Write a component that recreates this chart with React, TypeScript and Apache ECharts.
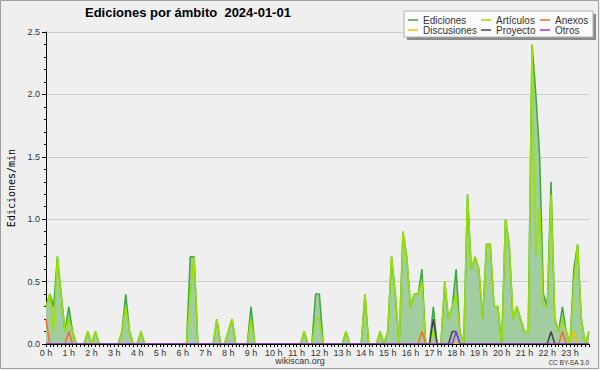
import React, { useEffect, useRef } from "react";
import * as echarts from "echarts";

const TITLE = "Ediciones por ámbito  2024-01-01";
const Y_NAME = "Ediciones/min";
const HOUR_LABELS = [
  "0 h", "1 h", "2 h", "3 h", "4 h", "5 h", "6 h", "7 h", "8 h", "9 h", "10 h", "11 h",
  "12 h", "13 h", "14 h", "15 h", "16 h", "17 h", "18 h", "19 h", "20 h", "21 h", "22 h", "23 h",
];
const SLOTS_PER_HOUR = 6;
// 10-minute slots of the day (0:00 ... 23:50)
const SLOTS: string[] = [];
for (let h = 0; h < 24; h++) for (let m = 0; m < SLOTS_PER_HOUR; m++) SLOTS.push(h + ":" + m + "0");

const SERIES_NAMES = ["Ediciones", "Artículos", "Anexos", "Discusiones", "Proyecto", "Otros"];

const EDICIONES = [
  0.3, 0.4, 0.3, 0.7, 0.4, 0.1, 0.3, 0.1, 0, 0,
  0, 0.1, 0, 0.1, 0, 0, 0, 0, 0, 0,
  0.1, 0.4, 0.1, 0, 0, 0.1, 0, 0, 0, 0,
  0, 0, 0, 0, 0, 0, 0, 0, 0.7, 0.7,
  0, 0, 0, 0, 0, 0.2, 0, 0, 0.1, 0.2,
  0, 0, 0, 0, 0.3, 0, 0, 0, 0, 0,
  0, 0, 0, 0, 0, 0, 0, 0, 0.1, 0,
  0, 0.4, 0.4, 0, 0, 0, 0, 0, 0, 0.1,
  0, 0, 0, 0, 0.4, 0, 0, 0, 0.1, 0,
  0.1, 0.7, 0.4, 0, 0.9, 0.7, 0.3, 0.4, 0.4, 0.6,
  0, 0, 0.3, 0, 0, 0.5, 0.2, 0.3, 0.6, 0.1,
  0, 1.2, 0.6, 0.7, 0.6, 0.2, 0.8, 0.8, 0.3, 0.3,
  0, 1.0, 0.8, 0.2, 0.3, 0.2, 0.1, 0.1, 2.4, 2.0,
  1.5, 0.4, 0.3, 1.3, 0.2, 0.1, 0.3, 0.1, 0, 0.6,
  0.8, 0.2, 0, 0.1,
];

const ARTICULOS = [
  0.3, 0.4, 0.1, 0.7, 0.4, 0.1, 0.2, 0.1, 0, 0,
  0, 0.1, 0, 0.1, 0, 0, 0, 0, 0, 0,
  0.1, 0.3, 0.1, 0, 0, 0.1, 0, 0, 0, 0,
  0, 0, 0, 0, 0, 0, 0, 0, 0.4, 0.7,
  0, 0, 0, 0, 0, 0.2, 0, 0, 0.1, 0.2,
  0, 0, 0, 0, 0.2, 0, 0, 0, 0, 0,
  0, 0, 0, 0, 0, 0, 0, 0, 0.1, 0,
  0, 0.2, 0.2, 0, 0, 0, 0, 0, 0, 0.1,
  0, 0, 0, 0, 0.4, 0, 0, 0, 0.1, 0,
  0.1, 0.7, 0.4, 0, 0.9, 0.7, 0.3, 0.4, 0.4, 0.5,
  0, 0, 0.1, 0, 0, 0.5, 0.2, 0.3, 0.4, 0.1,
  0, 1.2, 0.6, 0.7, 0.6, 0.2, 0.8, 0.8, 0.3, 0.3,
  0, 1.0, 0.8, 0.2, 0.3, 0.2, 0.1, 0.1, 2.4, 0.7,
  1.1, 0.3, 0.3, 1.2, 0.2, 0.1, 0.2, 0.1, 0, 0.5,
  0.8, 0.2, 0, 0.1,
];

const ANEXOS = [
  0.2, 0, 0, 0, 0, 0, 0.1, 0, 0, 0,
  0, 0, 0, 0, 0, 0, 0, 0, 0, 0,
  0, 0, 0, 0, 0, 0, 0, 0, 0, 0,
  0, 0, 0, 0, 0, 0, 0, 0, 0, 0,
  0, 0, 0, 0, 0, 0, 0, 0, 0, 0,
  0, 0, 0, 0, 0, 0, 0, 0, 0, 0,
  0, 0, 0, 0, 0, 0, 0, 0, 0, 0,
  0, 0, 0, 0, 0, 0, 0, 0, 0, 0,
  0, 0, 0, 0, 0, 0, 0, 0, 0, 0,
  0, 0, 0, 0, 0, 0, 0, 0, 0, 0.1,
  0, 0, 0, 0, 0, 0, 0, 0, 0, 0,
  0, 0, 0, 0, 0, 0, 0, 0, 0, 0,
  0, 0, 0, 0, 0, 0, 0, 0, 0, 0,
  0, 0, 0, 0, 0, 0, 0.1, 0, 0, 0,
  0, 0, 0, 0,
];

const DISCUSIONES = [
  0, 0, 0, 0, 0, 0, 0, 0, 0, 0,
  0, 0, 0, 0, 0, 0, 0, 0, 0, 0,
  0, 0, 0, 0, 0, 0, 0, 0, 0, 0,
  0, 0, 0, 0, 0, 0, 0, 0, 0, 0,
  0, 0, 0, 0, 0, 0, 0, 0, 0, 0,
  0, 0, 0, 0, 0, 0, 0, 0, 0, 0,
  0, 0, 0, 0, 0, 0, 0, 0, 0, 0,
  0, 0, 0, 0, 0, 0, 0, 0, 0, 0,
  0, 0, 0, 0, 0, 0, 0, 0, 0, 0,
  0, 0, 0, 0, 0, 0, 0, 0, 0, 0,
  0, 0, 0, 0, 0, 0, 0, 0, 0, 0,
  0, 0, 0, 0, 0, 0, 0, 0, 0, 0,
  0, 0, 0, 0, 0, 0, 0, 0, 0, 0,
  0, 0, 0, 0, 0, 0, 0, 0, 0, 0.1,
  0, 0, 0, 0,
];

const PROYECTO = [
  0, 0, 0, 0, 0, 0, 0, 0, 0, 0,
  0, 0, 0, 0, 0, 0, 0, 0, 0, 0,
  0, 0, 0, 0, 0, 0, 0, 0, 0, 0,
  0, 0, 0, 0, 0, 0, 0, 0, 0, 0,
  0, 0, 0, 0, 0, 0, 0, 0, 0, 0,
  0, 0, 0, 0, 0, 0, 0, 0, 0, 0,
  0, 0, 0, 0, 0, 0, 0, 0, 0, 0,
  0, 0, 0, 0, 0, 0, 0, 0, 0, 0,
  0, 0, 0, 0, 0, 0, 0, 0, 0, 0,
  0, 0, 0, 0, 0, 0, 0, 0, 0, 0,
  0, 0, 0.2, 0, 0, 0, 0, 0.1, 0.1, 0,
  0, 0, 0, 0, 0, 0, 0, 0, 0, 0,
  0, 0, 0, 0, 0, 0, 0, 0, 0, 0,
  0, 0, 0, 0.1, 0, 0, 0, 0, 0, 0,
  0, 0, 0, 0,
];

const OTROS = [
  0, 0, 0, 0, 0, 0, 0, 0, 0, 0,
  0, 0, 0, 0, 0, 0, 0, 0, 0, 0,
  0, 0, 0, 0, 0, 0, 0, 0, 0, 0,
  0, 0, 0, 0, 0, 0, 0, 0, 0, 0,
  0, 0, 0, 0, 0, 0, 0, 0, 0, 0,
  0, 0, 0, 0, 0, 0, 0, 0, 0, 0,
  0, 0, 0, 0, 0, 0, 0, 0, 0, 0,
  0, 0, 0, 0, 0, 0, 0, 0, 0, 0,
  0, 0, 0, 0, 0, 0, 0, 0, 0, 0,
  0, 0, 0, 0, 0, 0, 0, 0, 0, 0,
  0, 0, 0, 0, 0, 0, 0, 0, 0.1, 0,
  0, 0, 0, 0, 0, 0, 0, 0, 0, 0,
  0, 0, 0, 0, 0, 0, 0, 0, 0, 0,
  0, 0, 0, 0, 0, 0, 0, 0, 0, 0,
  0, 0, 0, 0,
];

const COLORS = ["#3aaa3a", "#9be000", "#ff6a22", "#f2c400", "#444444", "#9933ee"];
const VALUES = [EDICIONES, ARTICULOS, ANEXOS, DISCUSIONES, PROYECTO, OTROS];

const SANS = "'Liberation Sans', Arial, sans-serif";

export default function App() {
  const ref = useRef<HTMLDivElement>(null);
  useEffect(() => {
    if (!ref.current) return;
    const chart = echarts.init(ref.current, null, { renderer: "svg" });
    const legendBase = {
      orient: "vertical",
      top: 15,
      itemGap: 0,
      itemWidth: 10,
      itemHeight: 1.5,
      icon: "rect",
      padding: 0,
      selectedMode: false,
      textStyle: { fontFamily: SANS, fontSize: 10, color: "#333", lineHeight: 10, padding: [0, 0, 0, 0] },
    };
    chart.setOption({
      animation: false,
      backgroundColor: "#efeff0",
      title: {
        text: TITLE,
        left: 85,
        top: 6,
        padding: 0,
        textStyle: { fontFamily: SANS, fontWeight: "bold", fontSize: 13, color: "#000" },
      },
      legend: [
        { ...legendBase, left: 408, data: [SERIES_NAMES[0], SERIES_NAMES[3]] },
        { ...legendBase, left: 481, data: [SERIES_NAMES[1], SERIES_NAMES[4]] },
        { ...legendBase, left: 540, data: [SERIES_NAMES[2], SERIES_NAMES[5]] },
      ],
      grid: { left: 46, right: 11, top: 32, bottom: 26, containLabel: false, outerBoundsMode: "none" },
      xAxis: {
        type: "category",
        data: SLOTS,
        boundaryGap: false,
        z: 10,
        axisLine: { show: true, lineStyle: { color: "#000", width: 1 } },
        axisTick: { show: true, interval: 0, length: 3, lineStyle: { color: "#000" } },
        axisLabel: {
          interval: SLOTS_PER_HOUR - 1,
          margin: 4,
          fontFamily: SANS,
          fontSize: 9,
          color: "#333",
          formatter: (_v: string, idx: number) => HOUR_LABELS[Math.floor(idx / SLOTS_PER_HOUR)],
        },
        splitLine: { show: false },
      },
      yAxis: {
        type: "value",
        min: 0,
        max: 2.5,
        interval: 0.5,
        name: Y_NAME,
        nameLocation: "middle",
        nameRotate: 90,
        nameGap: 30,
        nameTextStyle: { fontFamily: "'DejaVu Sans Mono', monospace", fontSize: 10, color: "#000" },
        axisLine: { show: true, lineStyle: { color: "#000", width: 1 } },
        axisTick: { show: true, length: 4, lineStyle: { color: "#000" } },
        minorTick: { show: true, splitNumber: 5, length: 2, lineStyle: { color: "#000" } },
        axisLabel: {
          margin: 6,
          fontFamily: SANS,
          fontSize: 9,
          color: "#333",
          formatter: (v: number) => v.toFixed(1),
        },
        splitLine: { show: true, lineStyle: { color: "#cccccc", width: 1 } },
      },
      series: SERIES_NAMES.map((name, k) => ({
        name,
        type: "line",
        data: VALUES[k],
        showSymbol: false,
        symbol: "none",
        smooth: false,
        color: COLORS[k],
        lineStyle: { color: COLORS[k], width: 1.5 },
        areaStyle: k === 0 ? { color: "#a1cda1", opacity: 1 } : undefined,
        z: 2 + k,
      })),
      graphic: [
        { type: "rect", shape: { x: 407, y: 14, width: 189, height: 26 }, style: { fill: "#8a8a8a" }, z: 0 },
        { type: "rect", shape: { x: 404, y: 11, width: 189, height: 26 }, style: { fill: "#fbfbfb", stroke: "#b0b0b0", lineWidth: 1 }, z: 1 },
        {
          type: "text",
          x: 300,
          y: 361,
          style: { text: "wikiscan.org", fontFamily: SANS, fontSize: 9, fill: "#333", textAlign: "center", textVerticalAlign: "middle" },
        },
        {
          type: "text",
          x: 589,
          y: 362,
          style: { text: "CC BY-SA 3.0", fontFamily: SANS, fontSize: 6.5, fill: "#333", textAlign: "right", textVerticalAlign: "middle" },
        },
        {
          type: "rect",
          shape: { x: 0.5, y: 0.5, width: 598, height: 368 },
          style: { fill: "none", stroke: "#a0a0a0", lineWidth: 1 },
          silent: true,
        },
      ],
    });
    return () => chart.dispose();
  }, []);
  return <div ref={ref} style={{ position: "fixed", left: 0, top: 0, width: 600, height: 370 }} />;
}
